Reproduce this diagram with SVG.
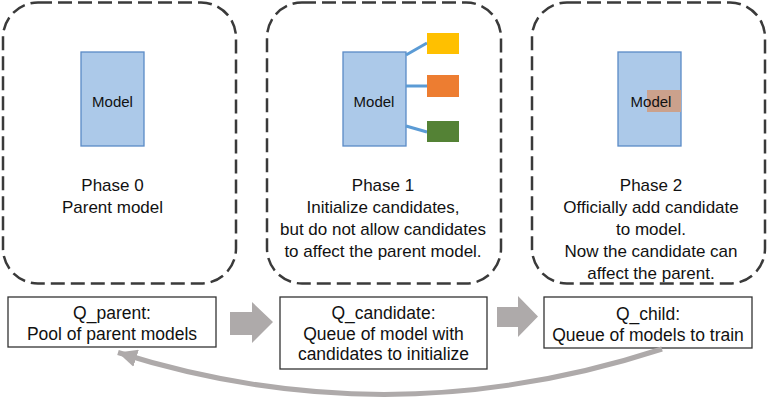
<svg xmlns="http://www.w3.org/2000/svg" width="768" height="400" viewBox="0 0 768 400">
  <style>
    .phase { fill: none; stroke: #3a3a3a; stroke-width: 2.5; stroke-dasharray: 14 6; }
    .model { fill: #acc9e9; stroke: #5a8ac6; stroke-width: 1.3; }
    .q { fill: #ffffff; stroke: #333333; stroke-width: 1.3; }
    .txt { font-family: "Liberation Sans", Arial, sans-serif; font-size: 17px; fill: #111111; text-anchor: middle; }
    .mtxt { font-family: "Liberation Sans", Arial, sans-serif; font-size: 15px; fill: #111111; text-anchor: middle; }
    .qtxt { font-family: "Liberation Sans", Arial, sans-serif; font-size: 17.5px; fill: #111111; text-anchor: middle; }
    .link { stroke: #5b9bd5; stroke-width: 3; fill: none; }
    .block { fill: #aeaaaa; }
  </style>
  <defs>
    <marker id="head" markerUnits="userSpaceOnUse" markerWidth="20" markerHeight="18" refX="19" refY="9" orient="auto">
      <path d="M0,0 L19,9 L0,18 z" fill="#aeaaaa"/>
    </marker>
  </defs>
  <rect width="768" height="400" fill="#ffffff"/>

  <g id="phase0">
    <rect class="phase" x="3" y="2.5" width="233" height="281" rx="35"/>
    <rect class="model" x="81" y="52" width="63" height="94"/>
    <text class="mtxt" x="112.5" y="107">Model</text>
    <text class="txt" x="112.5" y="191">Phase 0</text>
    <text class="txt" x="112.5" y="213">Parent model</text>
  </g>

  <g id="phase1">
    <rect class="phase" x="267" y="2.5" width="234" height="281" rx="35"/>
    <rect class="model" x="343" y="52" width="63" height="94"/>
    <text class="mtxt" x="374" y="107">Model</text>
    <line class="link" x1="406" y1="55" x2="427" y2="43"/>
    <line class="link" x1="406" y1="86" x2="427" y2="86"/>
    <line class="link" x1="406" y1="126" x2="427" y2="132"/>
    <rect x="427" y="33" width="32" height="21" fill="#ffc000"/>
    <rect x="427" y="75" width="32" height="22" fill="#ed7d31"/>
    <rect x="427" y="121" width="32" height="21" fill="#548235"/>
    <text class="txt" x="383" y="191">Phase 1</text>
    <text class="txt" x="383" y="213">Initialize candidates,</text>
    <text class="txt" x="383" y="235">but do not allow candidates</text>
    <text class="txt" x="383" y="256.5">to affect the parent model.</text>
  </g>

  <g id="phase2">
    <rect class="phase" x="532" y="2.5" width="233" height="281" rx="35"/>
    <rect class="model" x="618" y="52" width="63" height="94"/>
    <rect x="647" y="90" width="34" height="22" fill="#cba18c"/>
    <text class="mtxt" x="651" y="107">Model</text>
    <text class="txt" x="651" y="191">Phase 2</text>
    <text class="txt" x="651" y="213">Officially add candidate</text>
    <text class="txt" x="651" y="235">to model.</text>
    <text class="txt" x="651" y="256.5">Now the candidate can</text>
    <text class="txt" x="651" y="278.5">affect the parent.</text>
  </g>

  <g id="q_parent">
    <rect class="q" x="8" y="297" width="208" height="50"/>
    <text class="qtxt" x="112" y="319">Q_parent:</text>
    <text class="qtxt" x="112" y="340">Pool of parent models</text>
  </g>

  <g id="q_candidate">
    <rect class="q" x="280" y="297" width="207" height="72"/>
    <text class="qtxt" x="383.5" y="319">Q_candidate:</text>
    <text class="qtxt" x="383.5" y="339.5">Queue of model with</text>
    <text class="qtxt" x="383.5" y="360">candidates to initialize</text>
  </g>

  <g id="q_child">
    <rect class="q" x="544" y="297" width="208" height="51"/>
    <text class="qtxt" x="648" y="320">Q_child:</text>
    <text class="qtxt" x="648" y="340.5">Queue of models to train</text>
  </g>

  <g id="connectors">
    <polygon class="block" points="230,312 252,312 252,302 273,322 252,343 252,335 230,335"/>
    <polygon class="block" points="497,307 518,307 518,296 538,316.5 518,337 518,327 497,327"/>
    <path d="M662,349 Q389,438 118,352.5" fill="none" stroke="#aeaaaa" stroke-width="5" marker-end="url(#head)"/>
  </g>
</svg>
